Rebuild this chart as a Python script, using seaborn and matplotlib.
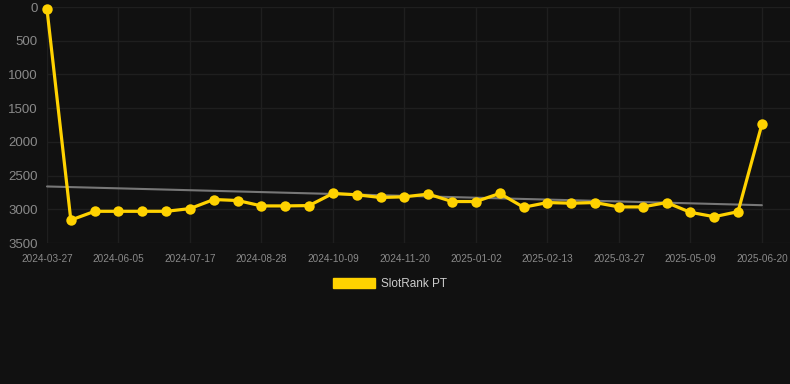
import numpy as np
import pandas as pd
import matplotlib
matplotlib.use("Agg")
import matplotlib.pyplot as plt
from matplotlib.patches import Patch
import seaborn as sns

# ---- data ----
dates = ["2024-03-27", "2024-04-24", "2024-05-15", "2024-06-05", "2024-06-19", "2024-07-03",
         "2024-07-17", "2024-07-31", "2024-08-14", "2024-08-28", "2024-09-11", "2024-09-25",
         "2024-10-09", "2024-10-23", "2024-11-06", "2024-11-20", "2024-12-04", "2024-12-18",
         "2025-01-02", "2025-01-16", "2025-01-30", "2025-02-13", "2025-02-27", "2025-03-13",
         "2025-03-27", "2025-04-10", "2025-04-24", "2025-05-09", "2025-05-23", "2025-06-06",
         "2025-06-20"]
ranks = [35, 3160, 3030, 3030, 3030, 3030,
         2990, 2855, 2870, 2950, 2950, 2945,
         2765, 2785, 2825, 2815, 2775, 2885,
         2885, 2765, 2970, 2900, 2910, 2900,
         2965, 2965, 2900, 3045, 3110, 3035,
         1740]
label_every = 3
series_name = "SlotRank PT"
y_ticks = [0, 500, 1000, 1500, 2000, 2500, 3000, 3500]

df = pd.DataFrame({"idx": np.arange(len(dates)), "date": dates, "rank": ranks})

BG = "#111111"
GRID = "#1f1f1f"
GOLD = "#FFD200"

sns.set_theme(style="dark")
plt.rcParams["font.family"] = ["Liberation Sans", "DejaVu Sans"]

fig = plt.figure(figsize=(7.9, 3.84), dpi=100, facecolor=BG)
W, H = 790, 384
ax = fig.add_axes([47 / W, 1 - 243 / H, (790 - 47) / W, (243 - 7) / H])
ax.set_facecolor(BG)

# trend line
sns.regplot(data=df, x="idx", y="rank", scatter=False, ci=None, ax=ax,
            line_kws=dict(color="#777777", linewidth=1.5, zorder=2), truncate=True)

sns.lineplot(data=df, x="idx", y="rank", ax=ax, color=GOLD, linewidth=2.3,
             marker="o", markersize=7.5, markeredgewidth=0, zorder=3)
for ln in ax.lines:
    ln.set_clip_on(False)

ax.set_xlim(0, 31.18)
ax.set_ylim(3500, 0)
ax.set_yticks(y_ticks)
ax.set_yticklabels([str(t) for t in y_ticks])
tick_idx = list(range(0, len(dates), label_every))
ax.set_xticks(tick_idx)
ax.set_xticklabels([dates[i] for i in tick_idx])

ax.grid(True, color=GRID, linewidth=1)
for s in ax.spines.values():
    s.set_visible(False)
ax.tick_params(axis="y", colors=GRID, labelcolor="#8a8a8a", labelsize=9.5, length=5.2, width=1, pad=1.5)
ax.tick_params(axis="x", colors=GRID, labelcolor="#8a8a8a", labelsize=7.2, length=5.2, width=1, pad=2.5)
ax.set_xlabel("")
ax.set_ylabel("")

handles = [Patch(facecolor=GOLD, edgecolor=GOLD, label=series_name)]
leg = fig.legend(handles=handles, loc="center", bbox_to_anchor=(390 / W, 1 - 284 / H),
                 frameon=False, fontsize=8.5, handlelength=3.6, handleheight=0.9,
                 handletextpad=0.5)
for t in leg.get_texts():
    t.set_color("#cccccc")

fig.savefig("out.png", dpi=100, facecolor=BG)
